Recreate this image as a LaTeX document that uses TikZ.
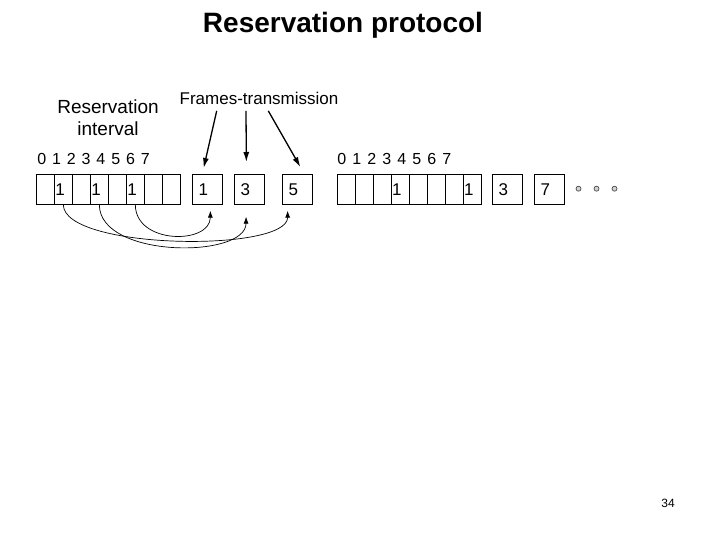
\documentclass[tikz,border=0pt]{standalone}
\usepackage{fontspec}
\setmainfont{Liberation Sans}
\usetikzlibrary{arrows.meta}

\begin{document}
\begin{tikzpicture}[x=1pt,y=-1pt,line width=0.7pt,
    slot/.style={draw,anchor=north west,minimum width=18pt,minimum height=30pt,inner xsep=1pt,inner ysep=0pt,text width=16pt,align=left,font=\fontsize{17}{17}\selectfont},
    txbox/.style={draw,anchor=north west,minimum width=30pt,minimum height=30pt,inner xsep=6pt,inner ysep=0pt,text width=18pt,align=left,font=\fontsize{17}{17}\selectfont},
    digit/.style={font=\fontsize{16}{16}\selectfont,inner sep=0pt},
    dot/.style={circle,draw=black!70,fill=gray!35,minimum size=5pt,inner sep=0pt},
    resv/.style={-{Latex[length=7pt,width=5pt]}},
    ptr/.style={line width=1.3pt,-{Latex[length=10pt,width=6pt]}}]
  \useasboundingbox (0,0) rectangle (720,540);
  % titles
  \node[font=\fontsize{28}{28}\selectfont\bfseries,anchor=base] (title) at (343,33) {Reservation protocol};
  \node[align=center,font=\fontsize{19}{22}\selectfont] (rint) at (108,117.5) {Reservation\\interval};
  \node[font=\fontsize{17}{17}\selectfont,anchor=base] (ftx) at (259,105) {Frames-transmission};
  % slot numbers
  \foreach \i in {0,...,7} {
    \node[digit] (na\i) at (41.7+14.8*\i,158.7) {\i};
    \node[digit] (nb\i) at (341.7+15*\i,158.7) {\i};
  }
  % reservation slots
  \foreach \i/\t in {0/,1/1,2/,3/1,4/,5/1,6/,7/}
    \node[slot] (a\i) at (36+18*\i,174) {\t};
  \foreach \i/\t in {0/,1/,2/,3/1,4/,5/,6/,7/1}
    \node[slot] (b\i) at (336.7+18*\i,174) {\t};
  % frames
  \node[txbox] (f1) at (192.3,174) {1};
  \node[txbox] (f3) at (234.3,174) {3};
  \node[txbox] (f5) at (282.3,174) {5};
  \node[txbox] (g3) at (492.3,174) {3};
  \node[txbox] (g7) at (534.3,174) {7};
  \foreach \i in {0,1,2}
    \node[dot] (d\i) at (578.5+18*\i,188.7) {};
  % pointers
  \draw[ptr] ([xshift=-42.3pt,yshift=-2pt]ftx.south) -- ([xshift=-4pt,yshift=6pt]f1.north);
  \draw[ptr] ([xshift=-13pt,yshift=-2pt]ftx.south) -- ([xshift=-3.3pt,yshift=12pt]f3.north);
  \draw[ptr] ([xshift=9.3pt,yshift=-2pt]ftx.south) -- ([xshift=2.7pt,yshift=7pt]f5.north);
  \draw[resv] (a1.south) .. controls +(0,45) and +(0,42) .. ([xshift=-10pt,yshift=-6pt]f5.south);
  \draw[resv] (a3.south) .. controls +(0,54) and +(0,42) .. ([xshift=-3.6pt,yshift=-12pt]f3.south);
  \draw[resv] (a5.south) .. controls +(0,40) and +(0,34) .. ([xshift=2.7pt,yshift=-6pt]f1.south);
  \node[font=\fontsize{12}{12}\selectfont] (pg) at (668,503) {34};
\end{tikzpicture}
\end{document}
